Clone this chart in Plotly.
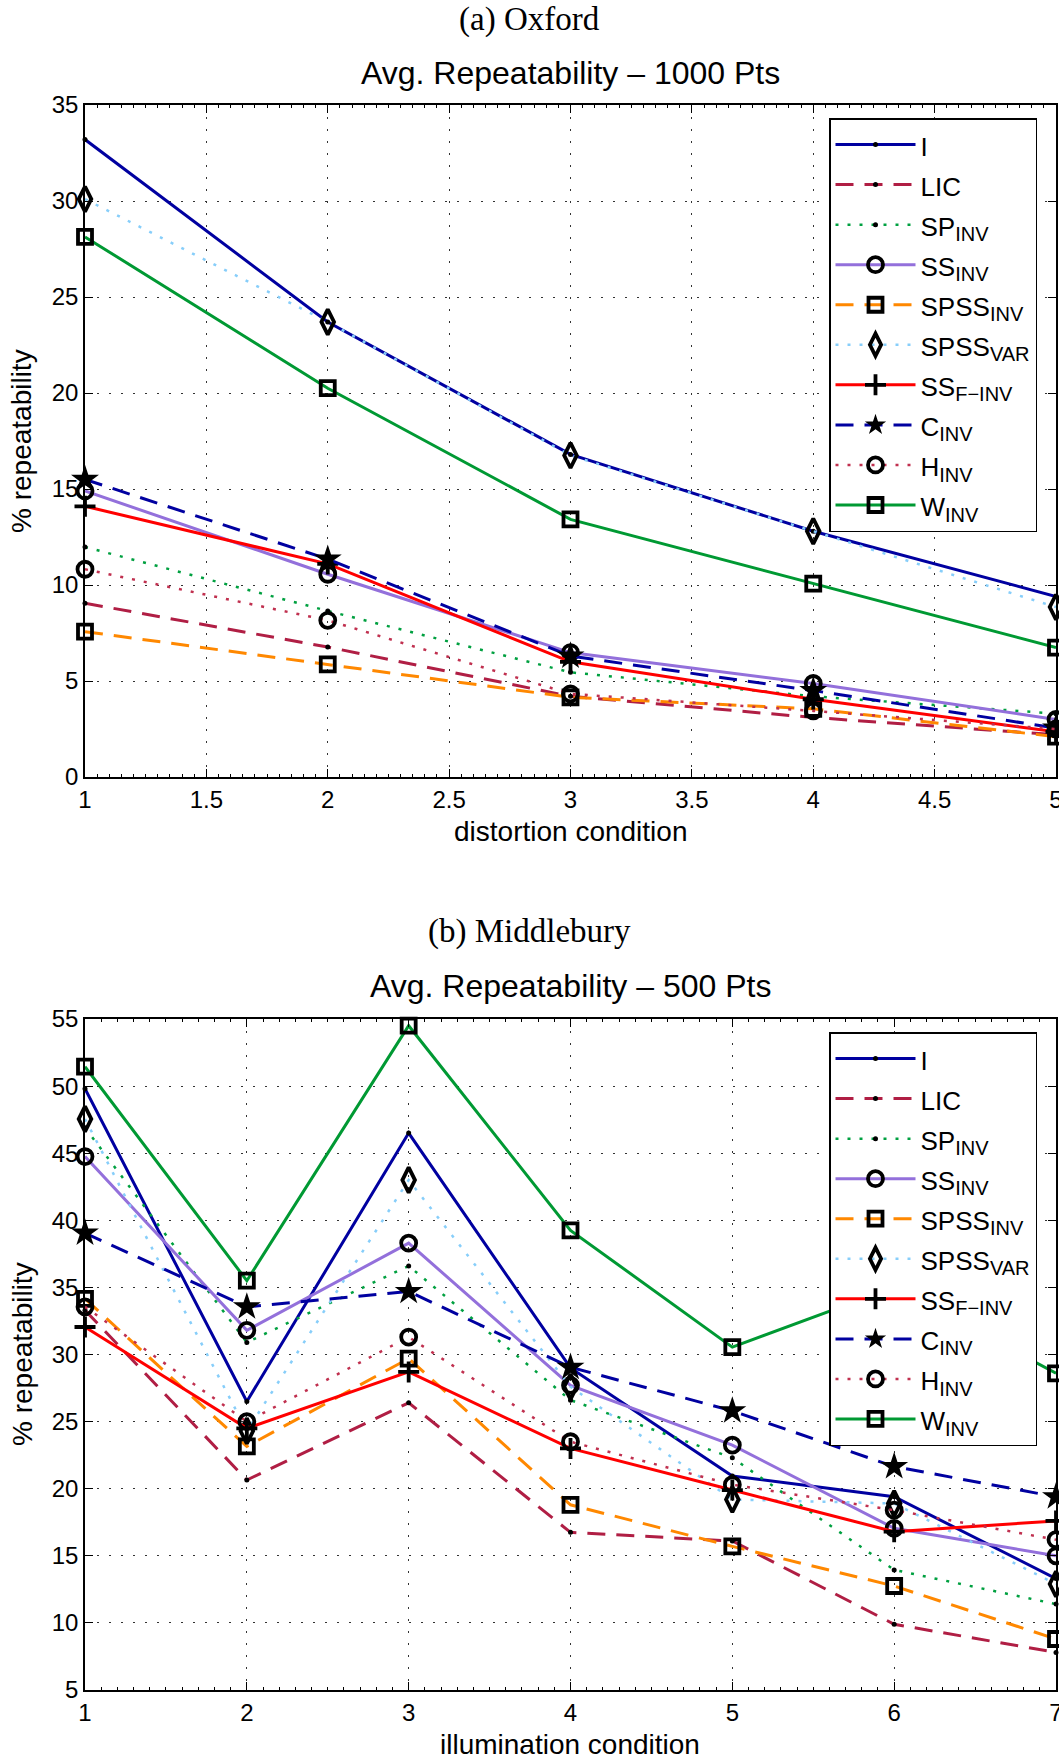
import plotly.graph_objects as go

# ---------------- data ----------------
series_names = ["I", "LIC", "SP<sub>INV</sub>", "SS<sub>INV</sub>", "SPSS<sub>INV</sub>",
                "SPSS<sub>VAR</sub>", "SS<sub>F\u2212INV</sub>", "C<sub>INV</sub>",
                "H<sub>INV</sub>", "W<sub>INV</sub>"]

x_oxford = [1, 2, 3, 4, 5]
ox_I = [33.2, 23.7, 16.8, 12.8, 9.4]
ox_LIC = [9.05, 6.77, 4.2, 3.1, 2.2]
ox_SP_INV = [11.98, 8.65, 5.45, 4.2, 3.3]
ox_SS_INV = [14.9, 10.56, 6.48, 4.87, 3.0]
ox_SPSS_INV = [7.57, 5.87, 4.15, 3.55, 2.1]
ox_SPSS_VAR = [30.1, 23.7, 16.75, 12.8, 8.85]
ox_SS_F_INV = [14.1, 11.1, 6.0, 4.05, 2.35]
ox_C_INV = [15.5, 11.35, 6.3, 4.5, 2.55]
ox_H_INV = [10.82, 8.16, 4.33, 3.44, 2.5]
ox_W_INV = [28.13, 20.25, 13.42, 10.07, 6.74]

x_middlebury = [1, 2, 3, 4, 5, 6, 7]
mb_I = [49.8, 26.5, 46.5, 29.0, 20.95, 19.4, 13.3]
mb_LIC = [33.3, 20.65, 26.4, 16.75, 16.1, 9.9, 7.8]
mb_SP_INV = [46.9, 30.9, 36.6, 26.6, 22.3, 13.95, 11.4]
mb_SS_INV = [44.75, 31.8, 38.3, 27.7, 23.25, 17.05, 15.0]
mb_SPSS_INV = [34.15, 23.15, 29.7, 18.8, 15.7, 12.75, 8.8]
mb_SPSS_VAR = [47.55, 24.3, 43.0, 27.6, 19.2, 18.9, 12.9]
mb_SS_F_INV = [32.05, 24.5, 28.7, 23.0, 19.9, 16.8, 17.6]
mb_C_INV = [39.05, 33.55, 34.7, 29.05, 25.8, 21.65, 19.4]
mb_H_INV = [33.55, 25.0, 31.3, 23.5, 20.3, 18.4, 16.2]
mb_W_INV = [51.45, 35.5, 54.5, 39.25, 30.55, 35.0, 28.6]

oxford_values = [ox_I, ox_LIC, ox_SP_INV, ox_SS_INV, ox_SPSS_INV, ox_SPSS_VAR,
                 ox_SS_F_INV, ox_C_INV, ox_H_INV, ox_W_INV]
middlebury_values = [mb_I, mb_LIC, mb_SP_INV, mb_SS_INV, mb_SPSS_INV, mb_SPSS_VAR,
                     mb_SS_F_INV, mb_C_INV, mb_H_INV, mb_W_INV]

# ---------------- styles ----------------
DASH = "18px,11px"
DOT = "3px,9px"
styles = [
    dict(color="#0000A0", dash="solid", width=3, symbol="circle", size=5, open=False),
    dict(color="#B01E44", dash=DASH, width=3, symbol="circle", size=5, open=False),
    dict(color="#00A040", dash=DOT, width=2.5, symbol="circle", size=5, open=False),
    dict(color="#9370DB", dash="solid", width=3, symbol="circle-open", size=15, open=True),
    dict(color="#FF8800", dash=DASH, width=3, symbol="square-open", size=14, open=True),
    dict(color="#87CEFA", dash=DOT, width=2.5, symbol="diamond-tall-open", size=18, open=True),
    dict(color="#FF0000", dash="solid", width=3, symbol="cross-thin", size=15, open=True),
    dict(color="#0000A0", dash=DASH, width=3, symbol="star", size=21, open=False),
    dict(color="#C0304F", dash=DOT, width=2.5, symbol="circle-open", size=15, open=True),
    dict(color="#009933", dash="solid", width=3, symbol="square-open", size=14, open=True),
]

FONT = "Liberation Sans, Arial, sans-serif"
SERIF = "Liberation Serif, Times New Roman, serif"

# plot-area pixel geometry
L, R, T, B = 85, 1056, 105, 1690
W_FIG, H_FIG = 1059, 1760


def px2x(X):
    return (X - L) / (R - L)


def px2y(Y):
    return (B - Y) / (B - T)


def legend_label(name):
    # main text 26px, subscript 20px; legend line height set by legend font size
    name = name.replace("<sub>", "<sub><span style='font-size:20px'>").replace(
        "</sub>", "</span></sub>")
    return "<span style='font-size:26px'>" + name + "</span>"


fig = go.Figure()


def add_series(xs, values_list, xa, ya, leg):
    for name, vals, st in zip(series_names, values_list, styles):
        marker = dict(symbol=st["symbol"], size=st["size"], color="black")
        if st["open"]:
            marker["line"] = dict(color="black", width=3.8)
        else:
            marker["line"] = dict(color="black", width=0)
        fig.add_trace(go.Scatter(
            x=xs, y=vals, mode="lines+markers", name=legend_label(name),
            line=dict(color=st["color"], width=st["width"], dash=st["dash"]),
            marker=marker, xaxis=xa, yaxis=ya, legend=leg, cliponaxis=False,
        ))


add_series(x_oxford, oxford_values, "x", "y", "legend")
add_series(x_middlebury, middlebury_values, "x2", "y2", "legend2")

axis_common = dict(
    showline=True, linecolor="black", linewidth=1.5, mirror="ticks",
    ticks="inside", ticklen=8, tickwidth=1.2, tickcolor="black",
    showgrid=True, gridcolor="#333333", gridwidth=1, griddash="2px,10px",
    zeroline=False, tickfont=dict(family=FONT, size=24, color="black"),
    automargin=False, ticklabeloverflow="allow",
)

top_lo = px2y(777)
bot_hi = px2y(1019)

legend_common = dict(
    xanchor="left", yanchor="top", bordercolor="black", borderwidth=1.5,
    bgcolor="white", font=dict(family=FONT, size=28.5, color="black"),
    itemwidth=80, traceorder="normal",
)

fig.update_layout(
    width=W_FIG, height=H_FIG,
    margin=dict(l=L, r=W_FIG - R, t=T, b=H_FIG - B),
    paper_bgcolor="white", plot_bgcolor="white",
    font=dict(family=FONT, color="black"),
    xaxis=dict(axis_common, domain=[0, 1], anchor="y", range=[1, 5], dtick=0.5,
               tick0=1,
               minor=dict(ticks="inside", ticklen=3, dtick=0.05, tickcolor="black",
                          showgrid=False)),
    yaxis=dict(axis_common, domain=[top_lo, 1], anchor="x", range=[0, 35], dtick=5),
    xaxis2=dict(axis_common, domain=[0, 1], anchor="y2", range=[1, 7], dtick=1,
                tick0=1,
                minor=dict(ticks="inside", ticklen=3, dtick=0.1, tickcolor="black",
                           showgrid=False)),
    yaxis2=dict(axis_common, domain=[0, bot_hi], anchor="x2", range=[5, 55], dtick=5),
    legend=dict(legend_common, x=px2x(829), y=px2y(118)),
    legend2=dict(legend_common, x=px2x(829), y=px2y(1032)),
)

annotations = [
    dict(text="(a) Oxford", x=px2x(529), y=px2y(20), font=dict(family=SERIF, size=33)),
    dict(text="Avg. Repeatability \u2013 1000 Pts", x=px2x(570), y=px2y(73),
         font=dict(family=FONT, size=32)),
    dict(text="distortion condition", x=px2x(570), y=px2y(831),
         font=dict(family=FONT, size=28)),
    dict(text="% repeatability", x=px2x(22), y=px2y(441), textangle=-90,
         font=dict(family=FONT, size=28)),
    dict(text="(b) Middlebury", x=px2x(529), y=px2y(932), font=dict(family=SERIF, size=33)),
    dict(text="Avg. Repeatability \u2013 500 Pts", x=px2x(570), y=px2y(986),
         font=dict(family=FONT, size=32)),
    dict(text="illumination condition", x=px2x(570), y=px2y(1744),
         font=dict(family=FONT, size=28)),
    dict(text="% repeatability", x=px2x(22), y=px2y(1354), textangle=-90,
         font=dict(family=FONT, size=28)),
]
for a in annotations:
    fig.add_annotation(xref="paper", yref="paper", showarrow=False,
                       xanchor="center", yanchor="middle", **a)

fig.write_html("out.html")
